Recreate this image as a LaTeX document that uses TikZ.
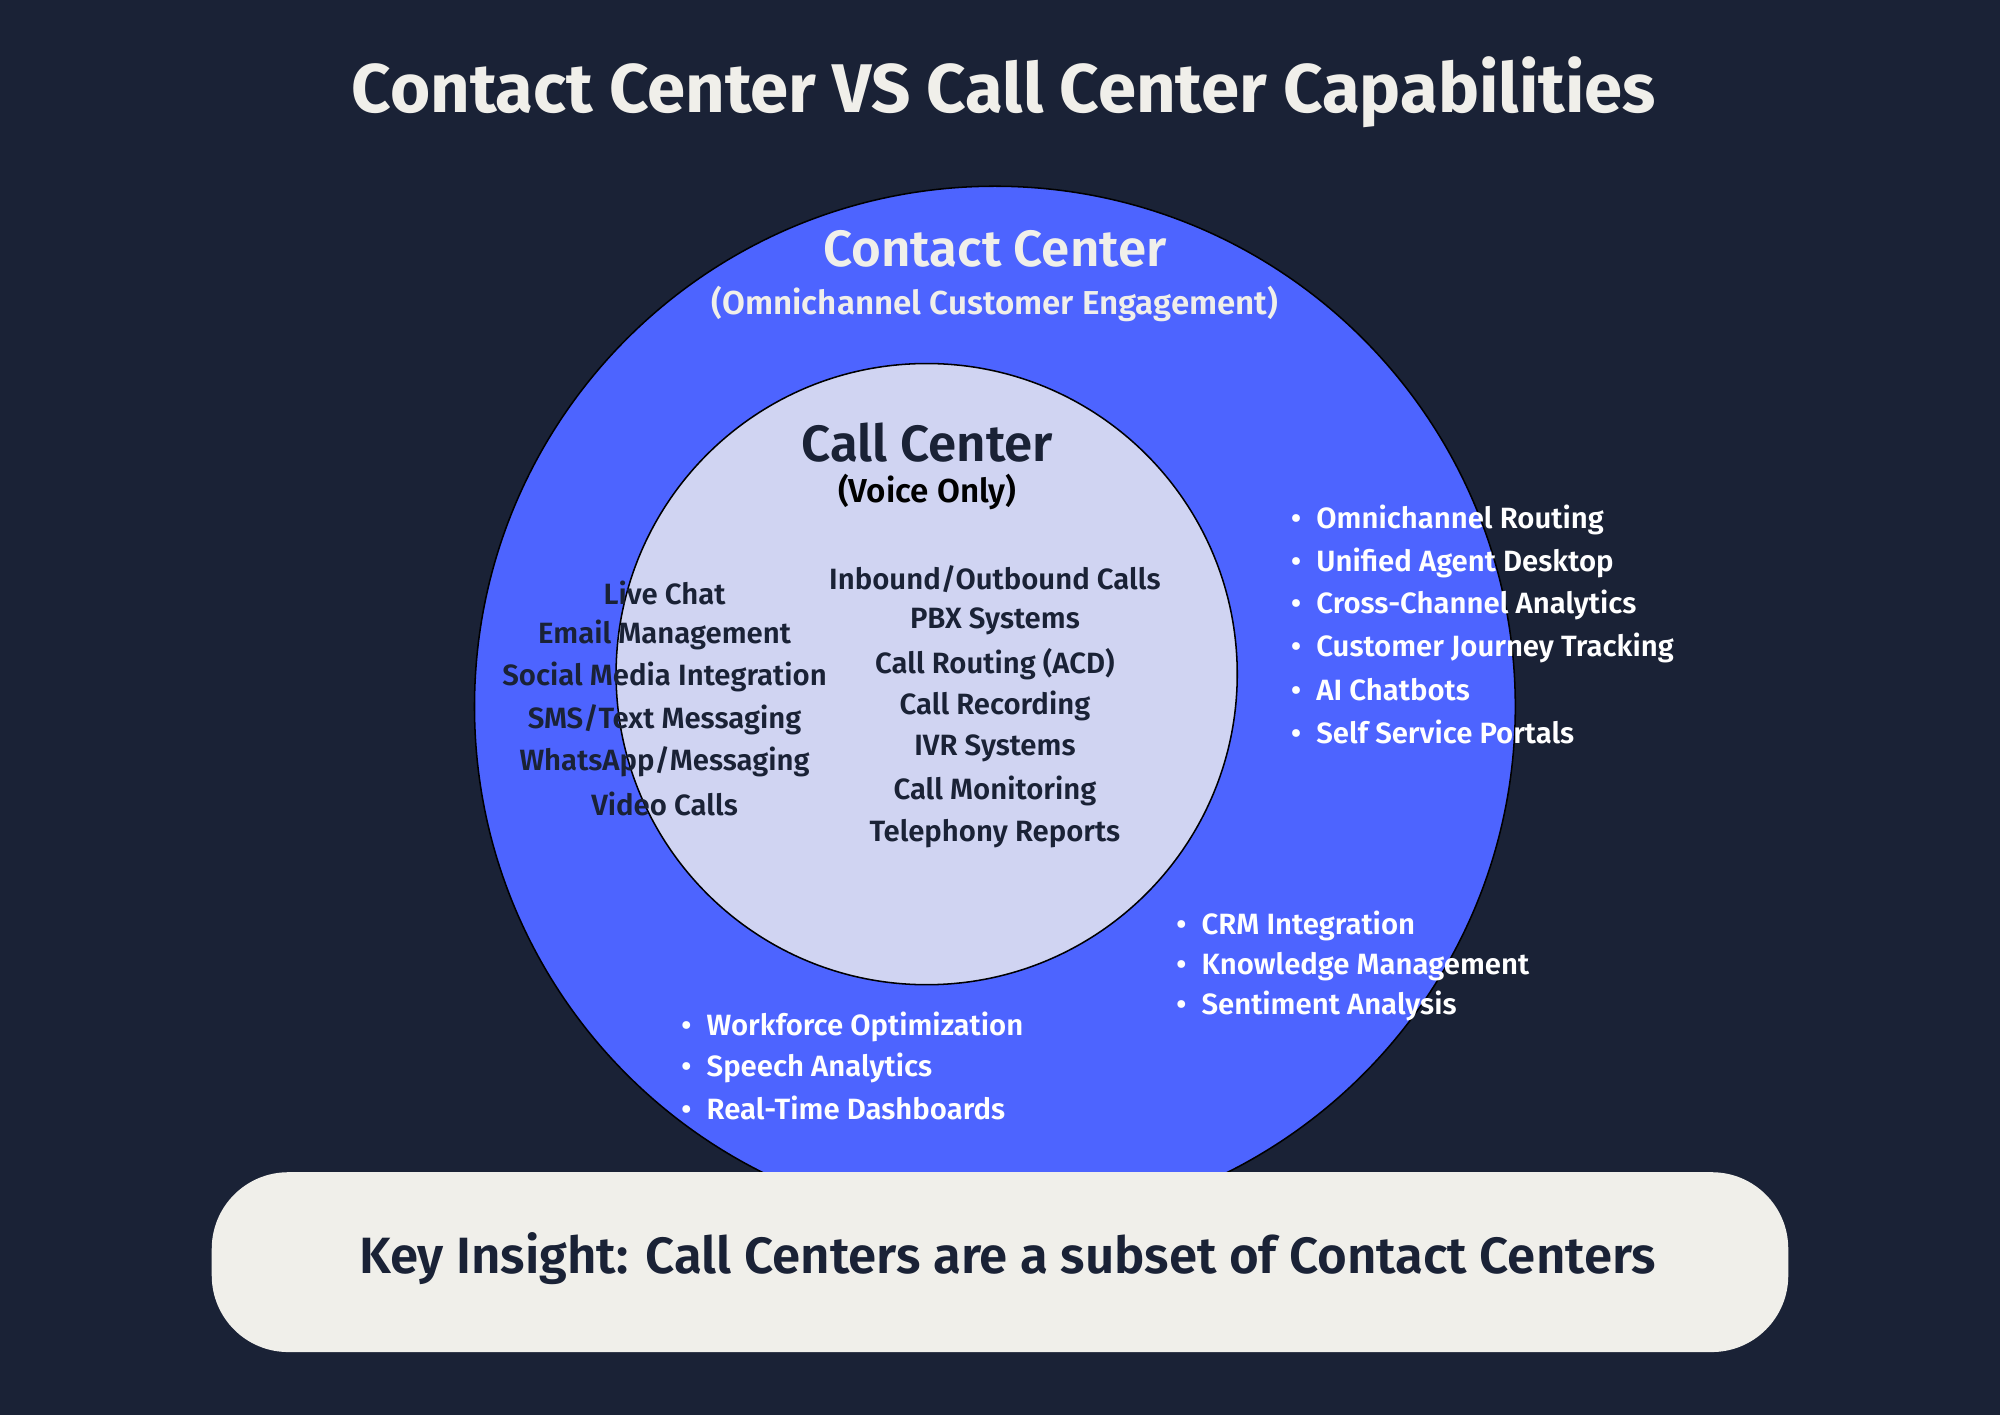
\documentclass[tikz,border=0pt]{standalone}
\usepackage{fontspec}
\setmainfont{Fira Sans}[UprightFont=* SemiBold,BoldFont=* Bold]
\definecolor{bg}{HTML}{1A2236}
\definecolor{outer}{HTML}{4D64FF}
\definecolor{inner}{HTML}{D0D4F2}
\definecolor{boxc}{HTML}{F0EFEA}
\begin{document}
\begin{tikzpicture}[x=1pt,y=-1pt,
  item/.style={font=\fontsize{23}{26}\selectfont,inner sep=0pt},
  wt/.style={item,text=white,anchor=west},
  dk/.style={item,text=bg}]
\fill[bg] (0,0) rectangle (1568,1109);
\useasboundingbox (0,0) rectangle (1568,1109);
\node[font=\bfseries\fontsize{54}{60}\selectfont,text=boxc] (title) at (787,72) {Contact Center VS Call Center Capabilities};
\node[circle,draw=black,line width=1.2pt,fill=outer,minimum size=816pt,inner sep=0pt] (outerc) at (780,554) {};
\node[circle,draw=black,line width=1.2pt,fill=inner,minimum size=487pt,inner sep=0pt] (innerc) at (726.5,528.5) {};
\node[font=\fontsize{40}{44}\selectfont,text=boxc] (cc) at (780,195) {Contact Center};
\node[font=\fontsize{26}{30}\selectfont,text=boxc] (ccs) at (780,238) {(Omnichannel Customer Engagement)};
\node[font=\fontsize{40}{44}\selectfont,text=bg] (call) at (727,347) {Call Center};
\node[font=\fontsize{26}{30}\selectfont,text=black] (calls) at (727,386) {(Voice Only)};
\foreach \t [count=\i from 0] in {Live Chat,Email Management,Social Media Integration,SMS/Text Messaging,WhatsApp/Messaging,Video Calls}
  \node[dk] (l\i) at (521,465+33*\i) {\t};
\foreach \t [count=\i from 0] in {Inbound/Outbound Calls,PBX Systems,Call Routing (ACD),Call Recording,IVR Systems,Call Monitoring,Telephony Reports}
  \node[dk] (m\i) at (780,454+33.2*\i) {\t};
\foreach \t [count=\i from 0] in {Omnichannel Routing,Unified Agent Desktop,Cross-Channel Analytics,Customer Journey Tracking,AI Chatbots,Self Service Portals}
  \node[wt] (r\i) at (1012,408+33.2*\i) {•\hspace{12pt}\t};
\foreach \t [count=\i from 0] in {CRM Integration,Knowledge Management,Sentiment Analysis}
  \node[wt] (c\i) at (922,726+31.5*\i) {•\hspace{12pt}\t};
\foreach \t [count=\i from 0] in {Workforce Optimization,Speech Analytics,Real-Time Dashboards}
  \node[wt] (w\i) at (534,805+32*\i) {•\hspace{12pt}\t};
\node[fill=boxc,rounded corners=60pt,minimum width=1236pt,minimum height=141pt] (box) at (784,989.5) {};
\node[font=\fontsize{40}{44}\selectfont,text=bg] (key) at (790,987) {Key Insight: Call Centers are a subset of Contact Centers};
\end{tikzpicture}
\end{document}
